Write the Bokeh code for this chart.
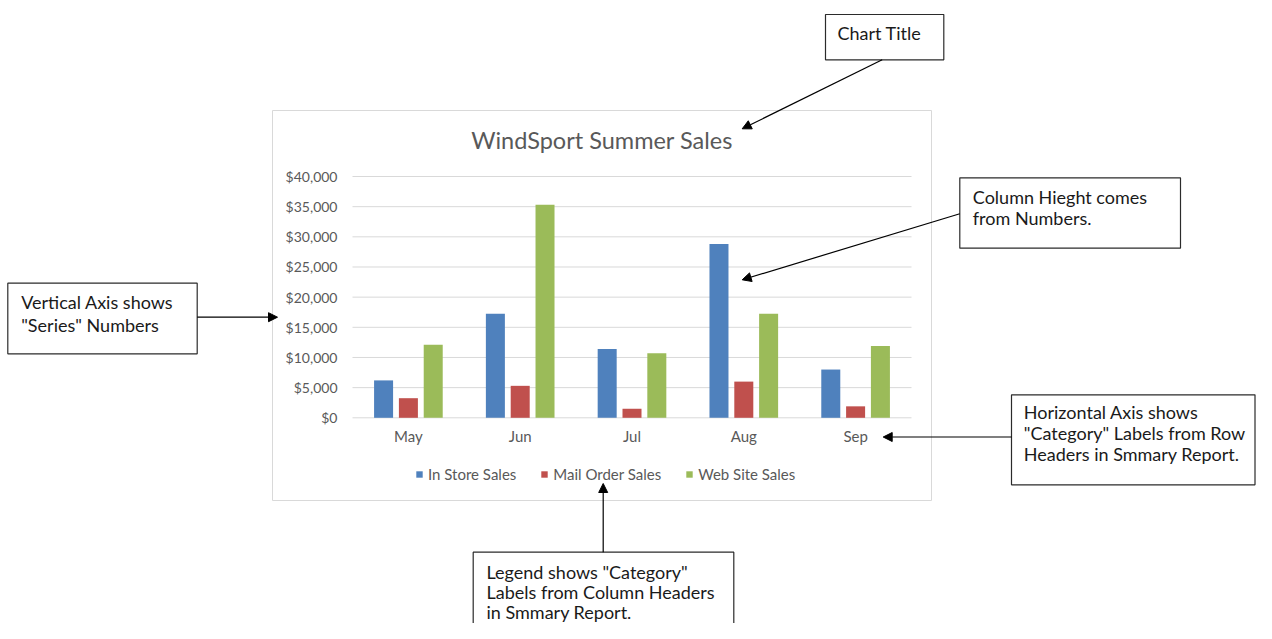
from bokeh.plotting import figure
from bokeh.models import (Range1d, LinearAxis, FixedTicker, NumeralTickFormatter,
                          Arrow, NormalHead, Legend, LegendItem)
from bokeh.core.properties import value
from bokeh.embed import file_html
from bokeh.resources import INLINE

# ---------------- data ----------------
months = ["May", "Jun", "Jul", "Aug", "Sep"]
in_store = [6200, 17250, 11400, 28800, 8000]
mail_order = [3250, 5300, 1500, 6000, 1900]
web_site = [12100, 35300, 10700, 17250, 11900]
series_names = ["In Store Sales", "Mail Order Sales", "Web Site Sales"]
y_ticks = [0, 5000, 10000, 15000, 20000, 25000, 30000, 35000, 40000]
chart_title = "WindSport Summer Sales"

# ---------------- layout (picture pixels) ----------------
W, H = 1256, 623
OFF = 0
PLOT_L, PLOT_R = 352.0, 911.0
Y0_PIX, YTOP_PIX = 417.3, 176.0
Y_MAX = 40000
FONT = value("Lato")
colors = ["#4F81BD", "#C0504D", "#9BBB59"]

p = figure(width=W, height=H, x_range=Range1d(OFF, OFF + W), y_range=Range1d(OFF + H, OFF),
           x_axis_type=None, y_axis_type=None, toolbar_location=None, output_backend="svg",
           min_border=0, outline_line_color=None)
p.min_border_left = p.min_border_right = p.min_border_top = p.min_border_bottom = 0
p.xgrid.visible = False
p.ygrid.visible = False

n = len(months)
cw = (PLOT_R - PLOT_L) / n
def cat_of(px):
    return (px - PLOT_L) / cw - 0.5
def sales_of(py):
    return (Y0_PIX - py) * Y_MAX / (Y0_PIX - YTOP_PIX)

p.extra_x_ranges = {"cat": Range1d(cat_of(OFF), cat_of(OFF + W))}
p.extra_y_ranges = {"sales": Range1d(sales_of(OFF + H), sales_of(OFF))}

# chart area box
p.quad(left=[272], right=[931], top=[110], bottom=[500], fill_color="white",
       line_color="#d9d9d9", line_width=1)

# gridlines
p.segment(x0=[-0.5] * len(y_ticks), x1=[n - 0.5] * len(y_ticks), y0=y_ticks, y1=y_ticks,
          x_range_name="cat", y_range_name="sales", line_color="#d9d9d9", line_width=1)

# bars
idx = list(range(n))
offsets = [-0.222, 0.0, 0.222]
renderers = []
for vals, off, col in zip([in_store, mail_order, web_site], offsets, colors):
    r = p.vbar(x=[i + off for i in idx], top=vals, bottom=0, width=0.17,
               x_range_name="cat", y_range_name="sales",
               fill_color=col, line_color=None)
    renderers.append(r)

# axes
yaxis = LinearAxis(x_range_name="cat", y_range_name="sales", fixed_location=-0.5,
                   ticker=FixedTicker(ticks=y_ticks), formatter=NumeralTickFormatter(format="$0,0"),
                   bounds=(0, Y_MAX), axis_line_color=None, major_tick_line_color=None,
                   minor_tick_line_color=None, major_tick_out=0, major_tick_in=0,
                   major_label_standoff=15, major_label_text_font="Lato",
                   major_label_text_font_size="14px", major_label_text_color="#595959")
p.add_layout(yaxis, "left")

xaxis = LinearAxis(x_range_name="cat", y_range_name="sales", fixed_location=0,
                   ticker=FixedTicker(ticks=idx),
                   major_label_overrides={i: m for i, m in zip(idx, months)},
                   bounds=(-0.5, n - 0.5), axis_line_color=None, major_tick_line_color=None,
                   minor_tick_line_color=None, major_tick_out=0, major_tick_in=0,
                   major_label_standoff=9, major_label_text_font="Lato",
                   major_label_text_font_size="15px", major_label_text_color="#595959")
p.add_layout(xaxis, "below")

# title
p.text(x=[601.5], y=[139], text=[chart_title], text_font=FONT, text_font_size="23.5px",
       text_color="#595959", text_align="center", text_baseline="middle")

# legend
legend = Legend(items=[LegendItem(label=s, renderers=[r]) for s, r in zip(series_names, renderers)],
                orientation="horizontal", location=(415, 140), glyph_width=8, glyph_height=8,
                label_standoff=5, spacing=24, padding=0, margin=0, border_line_color=None,
                background_fill_alpha=0, label_text_font="Lato", label_text_font_size="15px",
                label_text_color="#595959")
p.add_layout(legend, "center")

# annotation boxes
boxes_l = [825, 7.3, 959.3, 1011, 472.7]
boxes_r = [943.3, 196.7, 1180, 1254.5, 733.3]
boxes_t = [14, 282.7, 177.3, 394.3, 551.7]
boxes_b = [59.3, 353.3, 247.7, 484.3, 700]
p.quad(left=boxes_l, right=boxes_r, top=boxes_t, bottom=boxes_b, fill_color="white",
       line_color="#2b2b2b", line_width=1.2)

note_x = [837, 20.7, 20.7, 972.3, 972.3, 1023.3, 1023.3, 1023.3, 486, 486, 486]
note_y = [32.3, 301.3, 324, 196.3, 217.5, 411.3, 432.7, 453.5, 571.5, 591.5, 611.0]
note_text = ["Chart Title",
             "Vertical Axis shows", "\"Series\" Numbers",
             "Column Hieght comes", "from Numbers.",
             "Horizontal Axis shows", "\"Category\" Labels from Row", "Headers in Smmary Report.",
             "Legend shows \"Category\"", "Labels from Column Headers", "in Smmary Report."]
p.text(x=note_x, y=note_y, text=note_text, text_font=FONT, text_font_size="18px",
       text_color="#1a1a1a", text_align="left", text_baseline="middle")

arrows = [((881.7, 59.3), (741.7, 128.3)),
          ((196.7, 316.7), (277.0, 316.7)),
          ((959.3, 213.3), (741.7, 279.3)),
          ((1011.0, 436.5), (882.7, 436.5)),
          ((602.7, 551.7), (602.7, 483.0))]
for (xs, ys), (xe, ye) in arrows:
    p.add_layout(Arrow(end=NormalHead(size=9, fill_color="black", line_color="black"),
                       x_start=xs, y_start=ys, x_end=xe, y_end=ye,
                       line_color="black", line_width=1.2))

open("out.html", "w").write(file_html(p, INLINE))
